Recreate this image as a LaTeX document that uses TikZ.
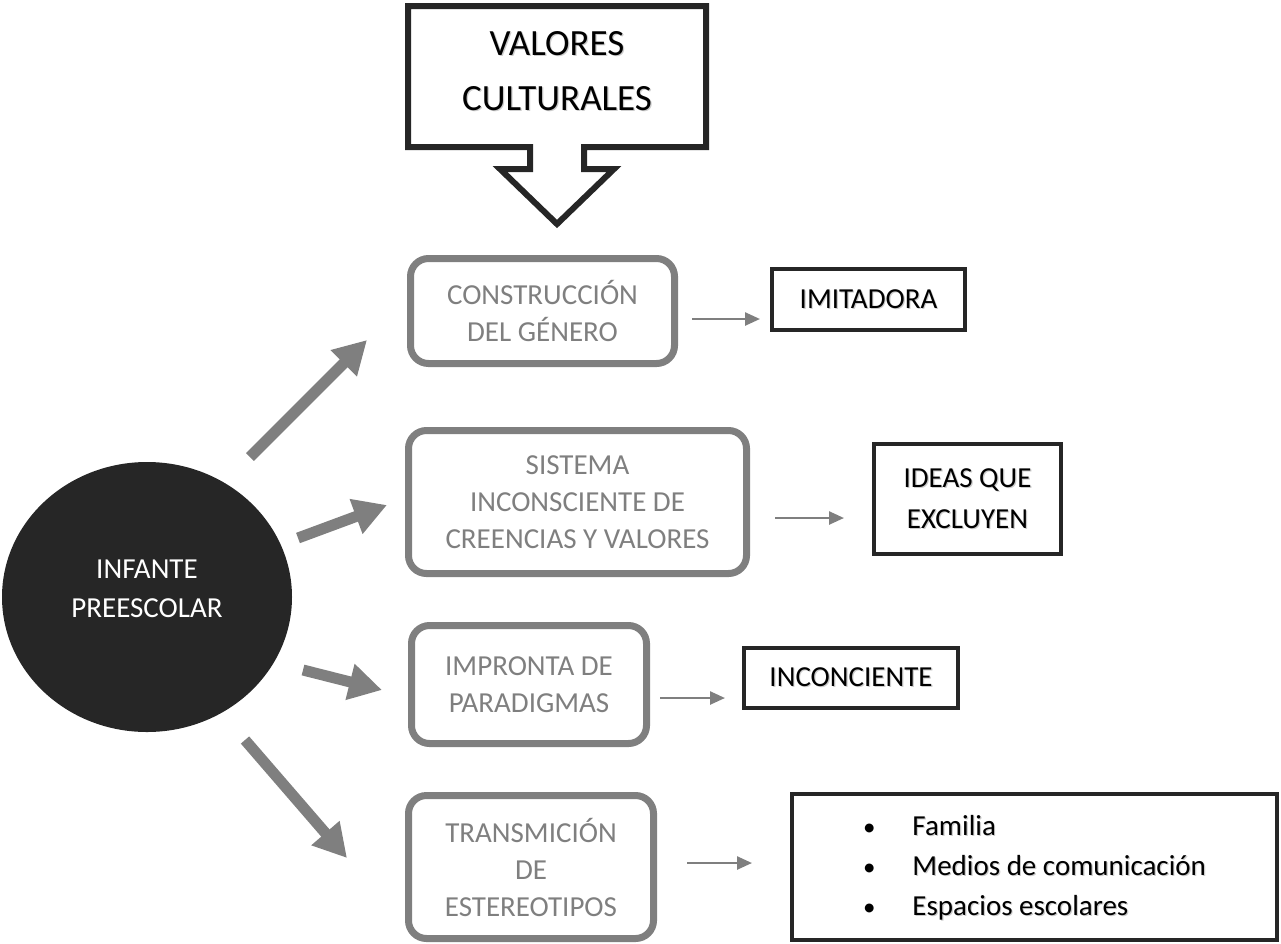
\documentclass[tikz,border=0pt]{standalone}
\usepackage{fontspec}
\setmainfont{Carlito}
\usetikzlibrary{arrows.meta,shapes.geometric,calc}
\definecolor{ink}{HTML}{262626}
\definecolor{mid}{HTML}{7F7F7F}
% black text with a soft grey drop shadow
\newcommand\shtxt[1]{\leavevmode\rlap{\kern1.2pt\raisebox{-1.2pt}{\textcolor{black!20}{#1}}}#1}
\begin{document}
\begin{tikzpicture}[x=1pt,y=-1pt,
  graybox/.style={draw=mid, line width=7pt, rounded corners=18pt, align=center,
    text=mid, font=\fontsize{29}{37}\selectfont, inner sep=0pt},
  blackbox/.style={draw=ink, line width=4pt, align=center,
    font=\fontsize{29}{41}\selectfont, inner sep=0pt},
  bigarrow/.style={draw=mid, line width=11pt, -{Triangle[width=35pt,length=33pt]}},
  smallarrow/.style={draw=mid, line width=2.5pt, -{Triangle[width=13pt,length=15pt]}},
]
\useasboundingbox (0,0) rectangle (1281,943);

% callout with downward arrow
\draw[ink, line width=6pt, line join=miter]
  (408,6) -- (706,6) -- (706,147) -- (584,147) -- (584,169) -- (614,169)
  -- (557,224) -- (500,169) -- (530,169) -- (530,147) -- (408,147) -- cycle;
\node[font=\fontsize{37}{55}\selectfont, align=center] (vc) at (557,72)
  {\shtxt{VALORES}\\\shtxt{CULTURALES}};

% central ellipse
\node[ellipse, fill=ink, minimum width=290pt, minimum height=270pt, inner sep=0pt] (inf) at (147,597) {};
\node[text=white, align=center, font=\fontsize{29}{39}\selectfont] (inftxt) at (147,589)
  {INFANTE\\PREESCOLAR};

% grey rounded boxes
\node[graybox, minimum width=264pt, minimum height=105pt] (g1) at (542.5,311)
  {CONSTRUCCIÓN\\DEL GÉNERO};
\node[graybox, minimum width=338pt, minimum height=143pt] (g2) at (577.5,502)
  {SISTEMA\\INCONSCIENTE DE\\CREENCIAS Y VALORES};
\node[graybox, minimum width=235pt, minimum height=118pt] (g3) at (529,684.5)
  {IMPRONTA DE\\PARADIGMAS};
\node[graybox, minimum width=245pt, minimum height=143pt] (g4) at (531,867)
  {TRANSMICIÓN\\DE\\ESTEREOTIPOS};

% black outlined boxes
\node[blackbox, minimum width=193pt, minimum height=61pt] (b1) at (868.5,299.5)
  {\shtxt{IMITADORA}};
\node[blackbox, minimum width=187pt, minimum height=110pt] (b2) at (967.5,499)
  {\shtxt{IDEAS QUE}\\\shtxt{EXCLUYEN}};
\node[blackbox, minimum width=214pt, minimum height=60pt] (b3) at (851,678)
  {\shtxt{INCONCIENTE}};
\node[blackbox, minimum width=485pt, minimum height=146pt] (b4) at (1034.5,867)
  {\fontsize{29}{40}\selectfont
   \begin{tabular}{@{}c@{\hspace{37pt}}l@{}}
   {\fontsize{25}{40}\selectfont•} & \shtxt{Familia}\\
   {\fontsize{25}{40}\selectfont•} & \shtxt{Medios de comunicación}\\
   {\fontsize{25}{40}\selectfont•} & \shtxt{Espacios escolares}
   \end{tabular}};

% thick arrows leaving the ellipse
\coordinate (t1s) at (250,457); \coordinate (t1e) at (367,340);
\coordinate (t2s) at (298,538); \coordinate (t2e) at (387,505);
\coordinate (t3s) at (303,670); \coordinate (t3e) at (382,690);
\coordinate (t4s) at (245,740); \coordinate (t4e) at (347,858);
\draw[bigarrow] (t1s) -- (t1e);
\draw[bigarrow] (t2s) -- (t2e);
\draw[bigarrow] (t3s) -- (t3e);
\draw[bigarrow] (t4s) -- (t4e);

% thin arrows to the outlined boxes
\draw[smallarrow] ($(g1.east)+(14,8)$) -- ($(g1.east -| b1.west)+(-10,8)$);
\draw[smallarrow] ($(g2.east)+(25,16)$) -- ($(g2.east -| b2.west)+(-28,16)$);
\draw[smallarrow] ($(g3.east)+(10,13.5)$) -- ($(g3.east -| b3.west)+(-17,13.5)$);
\draw[smallarrow] ($(g4.east)+(30,-4)$) -- ($(g4.east -| b4.west)+(-38,-4)$);
\end{tikzpicture}
\end{document}
